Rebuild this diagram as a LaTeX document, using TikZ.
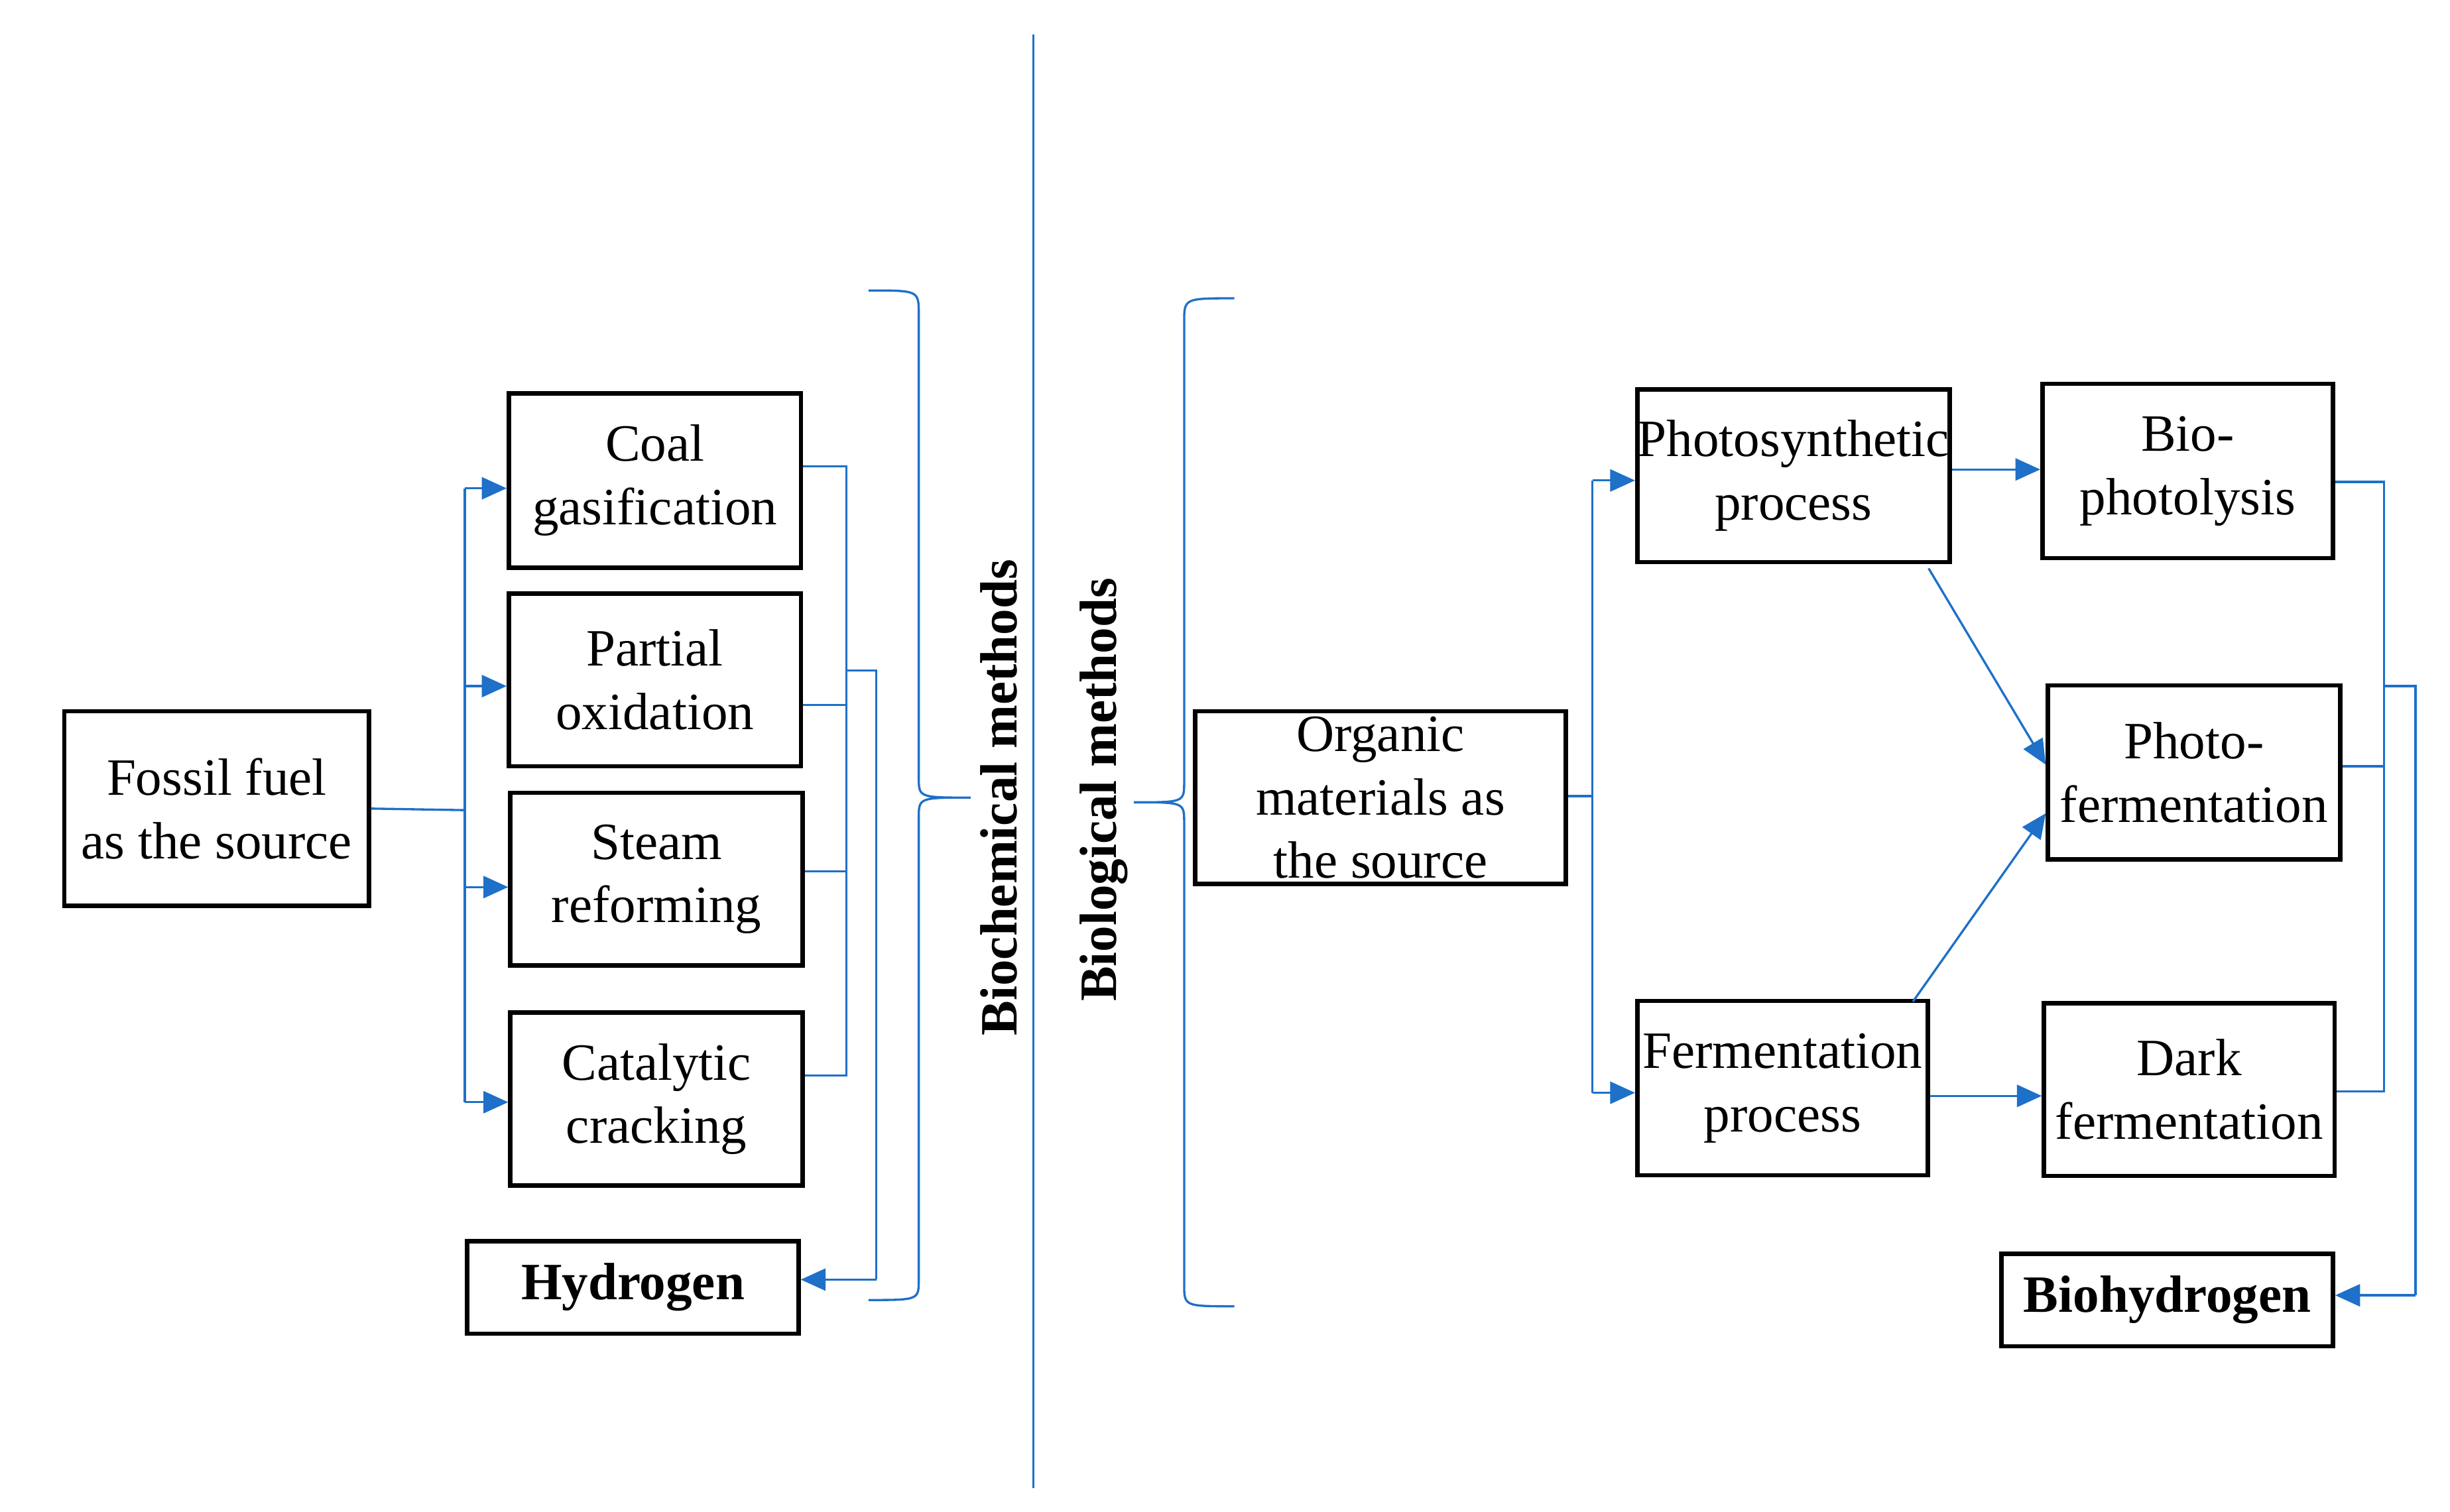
\documentclass[tikz,border=0pt]{standalone}
\usepackage{fontspec}
\setmainfont{Liberation Serif}
\usetikzlibrary{arrows.meta}
\definecolor{lineblue}{RGB}{30,112,200}
\tikzset{
	box/.style={draw=black, line width=1.6pt, align=center, inner sep=0pt, font=\fontsize{19}{23}\selectfont},
	link/.style={draw=lineblue, line width=0.8pt},
	arr/.style={link, -{Triangle[length=9pt,width=8pt]}}
}
\begin{document}
\begin{tikzpicture}[x=0.02cm,y=-0.02cm]
		\useasboundingbox (0,0) rectangle (1560,963);
		% left part
		\node[box, minimum width=194*0.02cm, minimum height=124*0.02cm] (fossil) at (138,515) {Fossil fuel\\as the source};
		\node[box, minimum width=186*0.02cm, minimum height=111*0.02cm] (coal) at (417,306) {Coal\\gasification};
		\node[box, minimum width=186*0.02cm, minimum height=110*0.02cm] (partial) at (417,433) {Partial\\oxidation};
		\node[box, minimum width=186*0.02cm, minimum height=110*0.02cm] (steam) at (418,560) {Steam\\reforming};
		\node[box, minimum width=186*0.02cm, minimum height=110*0.02cm] (catalytic) at (418,700) {Catalytic\\cracking};
		\node[box, minimum width=211*0.02cm, minimum height=59*0.02cm, font=\fontsize{19}{23}\selectfont\bfseries] (hydrogen) at (403,820) {Hydrogen};
		
		\coordinate (lsplit) at (296,516);
		\draw[link] (fossil.east) -- (lsplit);
		\draw[link] (296,311) -- (296,702);
		\draw[arr] (296,311) -- (coal.west |- 0,311);
		\draw[arr] (296,437) -- (partial.west |- 0,437);
		\draw[arr] (296,565) -- (steam.west |- 0,565);
		\draw[arr] (296,702) -- (catalytic.west |- 0,702);
		\draw[link] (coal.east |- 0,297) -- (539,297) -- (539,685) -- (catalytic.east |- 0,685);
		\draw[link] (partial.east |- 0,449) -- (539,449);
		\draw[link] (steam.east |- 0,555) -- (539,555);
		\draw[link] (539,427) -- (558,427) -- (558,815);
		\draw[arr] (558,815) -- (hydrogen.east |- 0,815);
		
		% braces and divider
		\draw[link] (553,185) .. controls (585,185) .. (585,200) -- (585,495) .. controls (585,508) .. (618,508)
			.. controls (585,508) .. (585,521) -- (585,815) .. controls (585,828) .. (553,828);
		\draw[link] (786,190) .. controls (754,190) .. (754,205) -- (754,498) .. controls (754,511) .. (722,511)
			.. controls (754,511) .. (754,524) -- (754,818) .. controls (754,832) .. (786,832);
		\draw[link] (658,22) -- (658,948);
		\node[rotate=90, font=\fontsize{19}{23}\selectfont\bfseries] (biochem) at (636,508) {Biochemical methods};
		\node[rotate=90, font=\fontsize{19}{23}\selectfont\bfseries] (biolog) at (703,503) {Biological methods};
		
		% right part
		\node[box, minimum width=236*0.02cm, minimum height=110*0.02cm] (organic) at (879,508) {Organic\\materials as\\the source};
		\node[box, minimum width=199*0.02cm, minimum height=110*0.02cm] (photosyn) at (1142,303) {Photosynthetic\\process};
		\node[box, minimum width=185*0.02cm, minimum height=111*0.02cm] (ferment) at (1135,693) {Fermentation\\process};
		\node[box, minimum width=185*0.02cm, minimum height=111*0.02cm] (biophoto) at (1393,300) {Bio-\\photolysis};
		\node[box, minimum width=186*0.02cm, minimum height=111*0.02cm] (photoferm) at (1397,492) {Photo-\\fermentation};
		\node[box, minimum width=185*0.02cm, minimum height=110*0.02cm] (dark) at (1394,694) {Dark\\fermentation};
		\node[box, minimum width=211*0.02cm, minimum height=59*0.02cm, font=\fontsize{19}{23}\selectfont\bfseries] (biohydrogen) at (1380,828) {Biohydrogen};
		
		\draw[link] (organic.east |- 0,507) -- (1014,507);
		\draw[link] (1014,306) -- (1014,696);
		\draw[arr] (1014,306) -- (photosyn.west |- 0,306);
		\draw[arr] (1014,696) -- (ferment.west |- 0,696);
		\draw[arr] (photosyn.east |- 0,299) -- (biophoto.west |- 0,299);
		\draw[arr] (ferment.east |- 0,698) -- (dark.west |- 0,698);
		\draw[arr] (1228,362) -- (photoferm.west |- 0,487);
		\draw[arr] (1218,638) -- (photoferm.west |- 0,518);
		\draw[link] (biophoto.east |- 0,307) -- (1518,307) -- (1518,695) -- (dark.east |- 0,695);
		\draw[link] (photoferm.east |- 0,488) -- (1518,488);
		\draw[link] (1518,437) -- (1538,437) -- (1538,825);
		\draw[arr] (1538,825) -- (biohydrogen.east |- 0,825);
\end{tikzpicture}
\end{document}
